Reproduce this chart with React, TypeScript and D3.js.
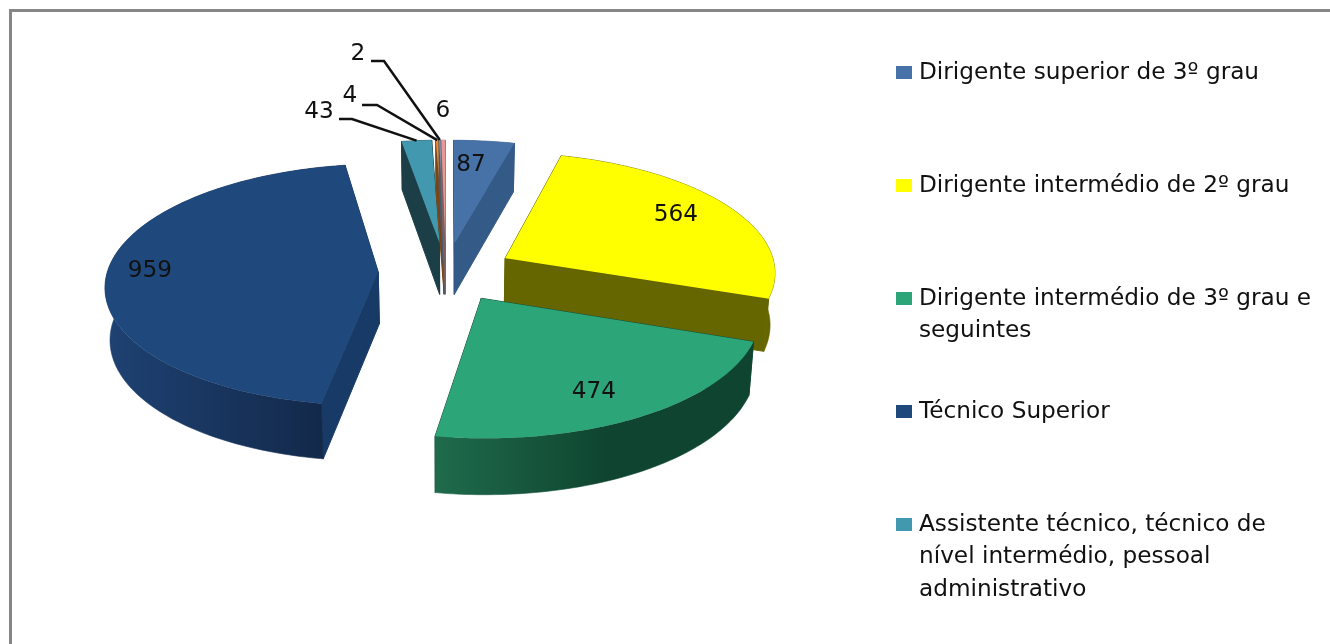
import React from "react";
import * as d3 from "d3";

const values = [87, 564, 474, 959, 43, 4, 2, 6];
const topColors = ["#4672a8", "#ffff00", "#2ca578", "#1f497d", "#4198af", "#f08a2c", "#8aa6cf", "#e59a96"];
const sideColors = ["#345a87", "#666600", "#16513a", "#183a66", "#1c3f47", "#7a4413", "#4a5a70", "#806060"];
const rimFrom = ["#345a87", "#666600", "#1f6b4c", "#1e4273", "#1c3f47", "#7a4413", "#4a5a70", "#806060"];
const rimTo = ["#345a87", "#666600", "#0f4530", "#13294a", "#1c3f47", "#7a4413", "#4a5a70", "#806060"];

const legendLines = [
  ["Dirigente superior de 3º grau"],
  ["Dirigente intermédio de 2º grau"],
  ["Dirigente intermédio de 3º grau e", "seguintes"],
  ["Técnico Superior"],
  ["Assistente técnico, técnico de", "nível intermédio, pessoal", "administrativo"],
];
const legendY = [72, 185, 298, 411, 524];

// label layout: index into values, text centre, optional leader elbow
const labelLayout = [
  { i: 0, x: 471, y: 164 },
  { i: 1, x: 676, y: 214 },
  { i: 2, x: 594, y: 391 },
  { i: 3, x: 150, y: 270 },
  { i: 4, x: 319, y: 111, lead: [[339, 119], [352, 119]] },
  { i: 5, x: 350, y: 95, lead: [[362, 105], [377, 105]] },
  { i: 6, x: 358, y: 53, lead: [[371, 61], [384, 61]] },
  { i: 7, x: 443, y: 110 },
];

const W = 1330;
const H = 644;
const cx = 446;
const cy = 272;
const R = 271;
const B = 119.4;
const P = 0.105;
const EXPLODE = 0.25;
const SHRINK = 0.985;
const TEXT_DY = -2;
const FONT = "'DejaVu Sans', sans-serif";

const project = (X: number, Y: number, low = false): [number, number] => {
  const s = 1 / (1 - P * Y);
  const x = R * X * s;
  const y = B * Y * s;
  return low ? [cx + x * SHRINK, cy + y + 22 + 30 * s] : [cx + x, cy + y];
};

const arcs = d3.pie<number>().sort(null).startAngle(0).endAngle(2 * Math.PI)(values);
const line = d3.line();

const geom = arcs.map((a) => {
  const mid = (a.startAngle + a.endAngle) / 2;
  const ex = EXPLODE * Math.sin(mid);
  const ey = -EXPLODE * Math.cos(mid);
  const at = (t: number, r: number, low = false) =>
    project(ex + r * Math.sin(t), ey - r * Math.cos(t), low);
  const n = Math.max(2, Math.ceil((a.endAngle - a.startAngle) / 0.02));
  const ts = d3.range(n + 1).map((k) => a.startAngle + ((a.endAngle - a.startAngle) * k) / n);
  const rimTop = ts.map((t) => at(t, 1));
  const rimLow = ts.map((t) => at(t, 1, true));
  const apex = at(0, 0);
  const apexLow = at(0, 0, true);
  const xs = rimTop.map((p) => p[0]);
  return {
    top: line([apex, ...rimTop])! + "Z",
    rim: line([...rimTop, ...[...rimLow].reverse()])! + "Z",
    sideA: line([apex, rimTop[0], rimLow[0], apexLow])! + "Z",
    sideB: line([apex, rimTop[n], rimLow[n], apexLow])! + "Z",
    x0: d3.min(xs)!,
    x1: d3.max(xs)!,
    tip: at(mid, 1),
  };
});

const drawOrder = [3, 4, 5, 6, 7, 0, 1, 2];
const textColor = "#111";

export default function App() {
  return (
    <svg
      width={W}
      height={H}
      viewBox={`0 0 ${W} ${H}`}
      style={{ position: "absolute", left: 0, top: 0, display: "block", background: "#fff" }}
    >
      <defs>
        <filter
          id="soft"
          x="0"
          y="0"
          width="100%"
          height="100%"
          filterUnits="objectBoundingBox"
          colorInterpolationFilters="sRGB"
        >
          <feGaussianBlur stdDeviation="0.45" />
        </filter>
        {geom.map((g, i) => (
          <linearGradient
            key={i}
            id={`rim${i}`}
            gradientUnits="userSpaceOnUse"
            x1={g.x0}
            x2={i === 2 ? g.x0 + 170 : i === 3 ? g.x0 + 216 : g.x1}
            y1={0}
            y2={0}
          >
            <stop offset="0" stopColor={rimFrom[i]} />
            <stop offset="1" stopColor={rimTo[i]} />
          </linearGradient>
        ))}
      </defs>
      <rect x={0} y={0} width={W} height={H} fill="#fff" />
      <g filter="url(#soft)">
        <rect x={0} y={0} width={W} height={H} fill="#fff" />
        <path d={`M10.5,${H}V10.5H${W + 4}`} fill="none" stroke="#868686" strokeWidth={3} />

        {drawOrder.map((i) => (
          <g key={i}>
            <path d={geom[i].sideA} fill={sideColors[i]} stroke={sideColors[i]} strokeWidth={1} />
            <path d={geom[i].sideB} fill={sideColors[i]} stroke={sideColors[i]} strokeWidth={1} />
            <path d={geom[i].rim} fill={`url(#rim${i})`} stroke={`url(#rim${i})`} strokeWidth={0.6} />
            <path d={geom[i].top} fill={topColors[i]} />
          </g>
        ))}

        {labelLayout.map((l) => (
          <g key={l.i}>
            {l.lead && (
              <path
                d={line([...(l.lead as [number, number][]), geom[l.i].tip])!}
                fill="none"
                stroke="#111"
                strokeWidth={2.5}
              />
            )}
            <text
              x={l.x}
              y={l.y + TEXT_DY}
              textAnchor="middle"
              dominantBaseline="central"
              fontFamily={FONT}
              fontSize={23.2}
              fill={textColor}
            >
              {values[l.i]}
            </text>
          </g>
        ))}

        {legendLines.map((lines, i) => (
          <g key={i}>
            <rect x={896} y={legendY[i] - 6} width={16} height={13} fill={topColors[i]} />
            {lines.map((t, k) => (
              <text
                key={k}
                x={919}
                y={legendY[i] + k * 32.5 + TEXT_DY}
                dominantBaseline="central"
                fontFamily={FONT}
                fontSize={23.2}
                fill={textColor}
              >
                {t}
              </text>
            ))}
          </g>
        ))}
      </g>
    </svg>
  );
}
